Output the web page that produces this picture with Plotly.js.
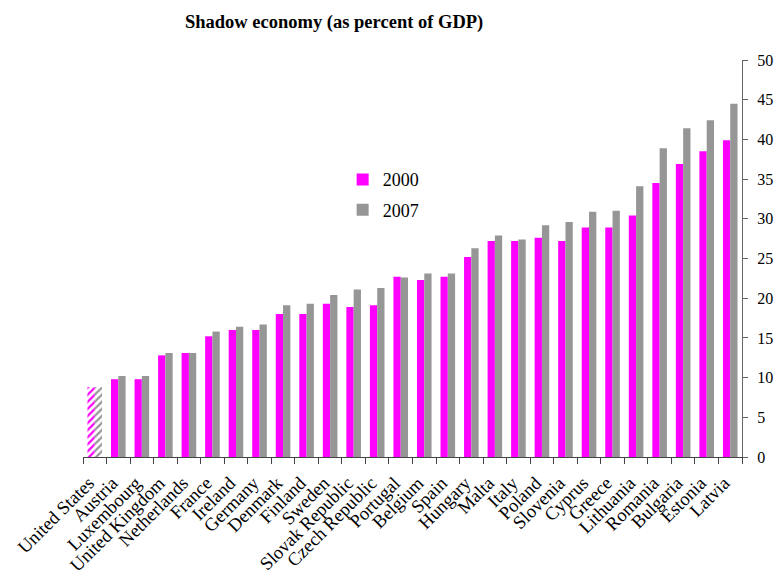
<!DOCTYPE html>
<html>
<head>
<meta charset="utf-8">
<script src="https://cdn.plot.ly/plotly-3.0.1.min.js"></script>
<style>html,body{margin:0;padding:0;background:#fff;}#chart{width:776px;height:578px;}</style>
</head>
<body>
<div id="chart"></div>
<script>
var countries = ["United States","Austria","Luxembourg","United Kingdom","Netherlands","France","Ireland","Germany","Denmark","Finland","Sweden","Slovak Republic","Czech Republic","Portugal","Belgium","Spain","Hungary","Malta","Italy","Poland","Slovenia","Cyprus","Greece","Lithuania","Romania","Bulgaria","Estonia","Latvia"];
var values2000 = [8.8,9.8,9.8,12.8,13.1,15.2,16.0,16.0,18.0,18.0,19.3,18.9,19.1,22.7,22.3,22.7,25.2,27.2,27.2,27.6,27.2,28.9,28.9,30.4,34.5,36.9,38.5,39.9];
var values2007 = [8.8,10.2,10.2,13.1,13.1,15.8,16.4,16.7,19.1,19.3,20.4,21.1,21.3,22.6,23.1,23.1,26.3,27.9,27.4,29.2,29.6,30.9,31.0,34.1,38.9,41.4,42.4,44.5];
var hatchedCountries = ["United States"];
var yTicks = [0,5,10,15,20,25,30,35,40,45,50];

function isHatched(c){ return hatchedCountries.indexOf(c) >= 0; }
function solidPart(vals){ return countries.map(function(c,i){ return isHatched(c) ? null : vals[i]; }); }
function hatchPart(vals){ return countries.map(function(c,i){ return isHatched(c) ? vals[i] : null; }); }

var font = "Liberation Serif, Times New Roman, serif";
var pink = "#FF00FF", grey = "#969696";

var traces = [
  {type:"bar", name:"2000", x:countries, y:solidPart(values2000), legendgroup:"a", offsetgroup:"a",
   marker:{color:pink, line:{width:0}}},
  {type:"bar", name:"2007", x:countries, y:solidPart(values2007), legendgroup:"b", offsetgroup:"b",
   marker:{color:grey, line:{width:0}}},
  {type:"bar", name:"2000", x:countries, y:hatchPart(values2000), legendgroup:"a", offsetgroup:"a", showlegend:false,
   marker:{color:pink, line:{width:0}, pattern:{shape:"/", fillmode:"replace", size:5, solidity:0.45}}},
  {type:"bar", name:"2007", x:countries, y:hatchPart(values2007), legendgroup:"b", offsetgroup:"b", showlegend:false,
   marker:{color:grey, line:{width:0}, pattern:{shape:"/", fillmode:"replace", size:5, solidity:0.45}}}
];

var layout = {
  width:776, height:578, autosize:false,
  margin:{l:83, r:34, t:60, b:121, pad:0},
  paper_bgcolor:"#fff", plot_bgcolor:"#fff",
  font:{family:font, size:15, color:"#000"},
  title:{text:"<b>Shadow economy (as percent of GDP)</b>", font:{family:font, size:18.5, color:"#000"},
         xref:"container", x:185/776, xanchor:"left", yref:"container", y:1-22/578, yanchor:"middle"},
  barmode:"group", bargap:0.38, bargroupgap:0,
  showlegend:true,
  legend:{x:0.394, y:0.745, xanchor:"left", yanchor:"top", bgcolor:"rgba(0,0,0,0)",
          font:{family:font, size:18}, traceorder:"grouped", tracegroupgap:4, itemwidth:30},
  xaxis:{type:"category", tickangle:-45, tickson:"boundaries", ticks:"outside", ticklen:6,
         ticklabelstandoff:7, ticklabelshift:-6,
         tickcolor:"#444", showline:true, linecolor:"#444", linewidth:1, showgrid:false,
         tickfont:{family:font, size:18.5}, automargin:false},
  yaxis:{side:"right", range:[0,50], tickvals:yTicks, ticks:"outside", ticklen:5, ticklabelstandoff:6,
         tickcolor:"#666", showline:true, linecolor:"#666", linewidth:1, showgrid:false, zeroline:false,
         tickfont:{family:font, size:16}, automargin:false}
};

Plotly.newPlot("chart", traces, layout, {displayModeBar:false, staticPlot:true});
</script>
</body>
</html>
